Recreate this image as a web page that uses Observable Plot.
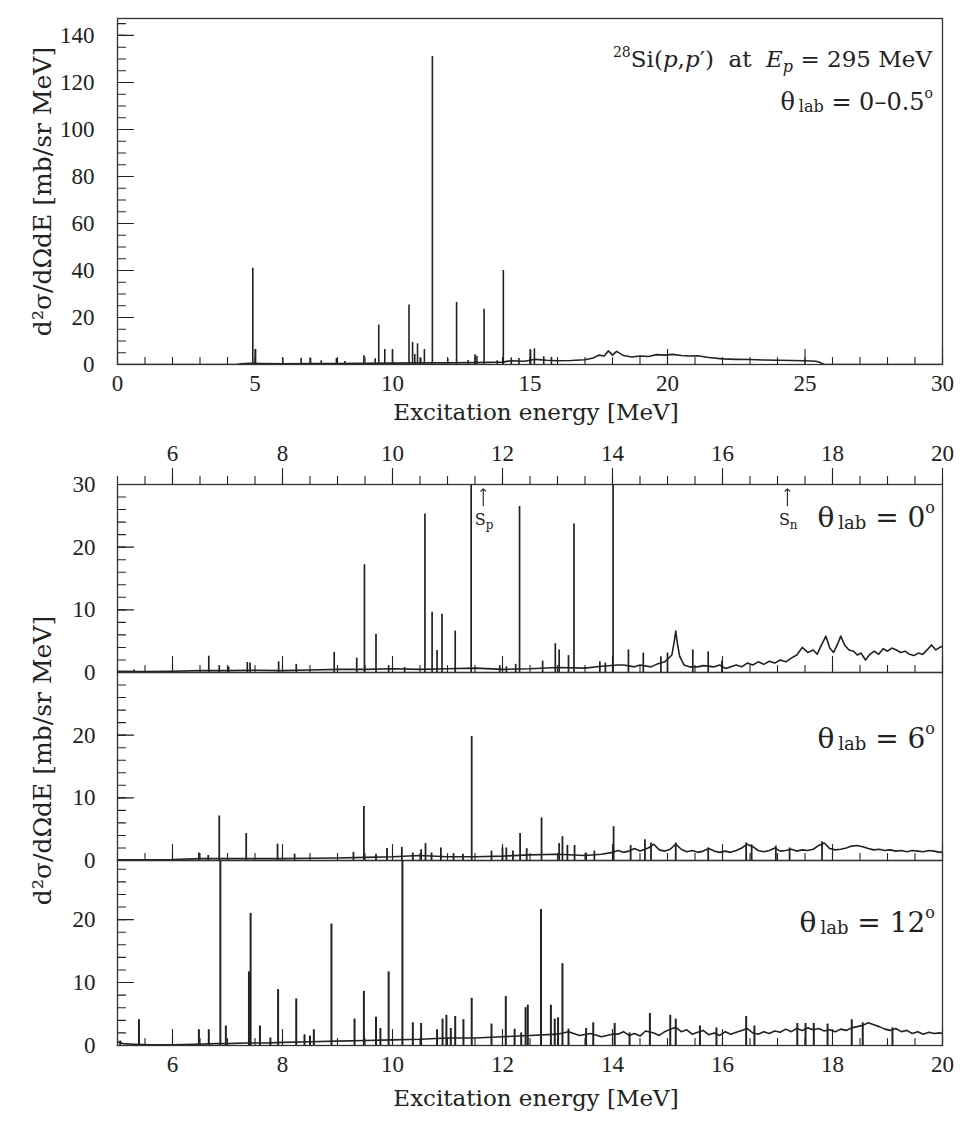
<!DOCTYPE html>
<html>
<head>
<meta charset="utf-8">
<script src="https://cdn.jsdelivr.net/npm/d3@7"></script>
<script src="https://cdn.jsdelivr.net/npm/@observablehq/plot@0.6"></script>
<style>
  body { margin: 0; background: #fff; }
  #fig { position: relative; width: 978px; height: 1134px; }
  #fig > svg { position: absolute; left: 0; overflow: visible; }
</style>
</head>
<body>
<div id="fig"></div>
<script>
// ---------------------------------------------------------------
// 28Si(p,p') spectra at Ep = 295 MeV
// Narrow states are listed as (energy, peak height); the continuum
// underneath is listed as (energy, value) samples.
// Units: excitation energy in MeV, cross section in mb/(sr MeV).
// ---------------------------------------------------------------

// θlab = 0–0.5°, full range 0–30 MeV
const overviewPeakE = [4.92, 5.02, 6.01, 6.68, 7.02, 7.41, 7.96, 8.27, 8.96, 9.37, 9.50, 9.72, 10.00, 10.60, 10.73, 10.81, 10.91, 11.03, 11.16, 11.45, 12.01, 12.33, 12.75, 13.00, 13.07, 13.33, 13.81, 14.03, 14.32, 14.60, 15.02, 15.16, 15.50, 15.78];
const overviewPeakH = [41.0, 6.4, 2.7, 2.7, 2.5, 1.6, 2.5, 1.3, 3.7, 2.4, 16.8, 6.4, 6.2, 25.3, 9.4, 4.3, 8.8, 2.7, 6.4, 131.0, 2.5, 26.4, 1.7, 4.1, 3.5, 23.5, 1.6, 40.0, 2.8, 2.6, 6.2, 6.6, 3.3, 3.0];
const overviewBgE = [0, 4.3, 4.5, 4.8, 5.2, 6, 7, 8, 9, 10, 11, 12, 13, 14, 14.3, 14.8, 15.2, 15.6, 16, 16.5, 17, 17.3, 17.5, 17.7, 17.85, 18.0, 18.15, 18.4, 18.7, 19.0, 19.3, 19.6, 19.9, 20.2, 20.5, 20.8, 21.1, 21.5, 22, 22.5, 23, 23.5, 24, 24.5, 25, 25.4, 25.6, 25.7, 30];
const overviewBgV = [0, 0, 0.3, 0.5, 0.4, 0.3, 0.4, 0.4, 0.5, 0.6, 0.7, 0.7, 0.8, 1.0, 1.6, 1.4, 2.2, 1.8, 1.6, 1.7, 2.0, 2.8, 4.0, 3.6, 5.8, 4.0, 5.6, 3.8, 3.2, 3.6, 3.4, 4.2, 4.0, 4.3, 3.8, 3.6, 3.7, 3.0, 2.4, 2.2, 2.1, 1.9, 1.8, 1.7, 1.6, 1.4, 0.6, 0, 0];

// θlab = 0°, 5–20 MeV
const deg0PeakE = [5.30, 6.66, 6.85, 7.02, 7.36, 7.41, 7.93, 8.25, 8.94, 9.35, 9.49, 9.70, 9.93, 10.22, 10.59, 10.72, 10.81, 10.90, 11.14, 11.43, 11.95, 12.07, 12.24, 12.31, 12.73, 12.96, 13.03, 13.20, 13.30, 13.77, 13.87, 14.01, 14.29, 14.56, 14.88, 15.00, 15.46, 15.74, 15.99];
const deg0PeakH = [0.4, 2.6, 1.1, 0.9, 1.6, 1.5, 1.7, 1.3, 3.2, 2.3, 17.2, 6.1, 1.1, 0.8, 25.3, 9.6, 3.5, 9.3, 6.6, 130.0, 1.1, 0.9, 1.3, 26.5, 1.8, 4.6, 3.6, 2.7, 23.7, 1.7, 1.5, 40.0, 3.6, 3.1, 2.5, 3.1, 3.6, 3.3, 1.8];
const deg0BgE = [5.0, 5.5, 6.0, 6.5, 7.0, 7.5, 8.0, 8.5, 9.0, 9.5, 10.0, 10.5, 11.0, 11.5, 12.0, 12.5, 13.0, 13.5, 13.8, 14.1, 14.2, 14.4, 14.5, 14.7, 14.8, 14.95, 15.08, 15.12, 15.15, 15.18, 15.22, 15.3, 15.4, 15.55, 15.65, 15.85, 15.95, 16.05, 16.15, 16.25, 16.35, 16.45, 16.55, 16.65, 16.75, 16.85, 16.95, 17.05, 17.15, 17.25, 17.35, 17.45, 17.55, 17.65, 17.72, 17.8, 17.88, 17.95, 18.02, 18.1, 18.15, 18.22, 18.3, 18.38, 18.45, 18.52, 18.6, 18.68, 18.76, 18.84, 18.92, 19.0, 19.08, 19.16, 19.24, 19.32, 19.4, 19.48, 19.56, 19.64, 19.72, 19.8, 19.88, 19.95, 20.0];
const deg0BgV = [0.2, 0.15, 0.2, 0.3, 0.3, 0.35, 0.3, 0.4, 0.5, 0.5, 0.6, 0.5, 0.6, 0.7, 0.5, 0.6, 0.8, 0.7, 1.0, 1.2, 1.2, 0.9, 1.2, 0.9, 1.3, 1.7, 2.8, 4.8, 6.6, 4.6, 2.6, 1.2, 0.9, 0.9, 1.1, 0.9, 1.2, 0.65, 0.9, 1.2, 0.9, 1.5, 1.2, 1.7, 1.3, 1.8, 1.5, 2.0, 1.7, 2.3, 2.8, 4.0, 3.2, 3.6, 2.9, 4.4, 5.8, 3.9, 3.2, 4.7, 5.8, 4.4, 3.6, 3.4, 2.8, 3.1, 2.0, 2.9, 3.4, 2.9, 3.8, 3.4, 3.9, 3.6, 3.2, 3.4, 2.9, 2.7, 3.1, 2.9, 3.6, 4.4, 3.6, 4.0, 4.2];

// θlab = 6°, 5–20 MeV
const deg6PeakE = [6.48, 6.65, 6.85, 7.34, 7.91, 8.22, 9.29, 9.48, 9.70, 9.90, 10.17, 10.37, 10.52, 10.60, 10.71, 10.88, 11.11, 11.28, 11.44, 11.80, 12.00, 12.07, 12.19, 12.32, 12.44, 12.71, 13.03, 13.09, 13.18, 13.31, 13.52, 13.67, 14.02, 14.33, 14.59, 14.70, 15.15, 15.74, 16.43, 16.53, 16.97, 17.22, 17.81];
const deg6PeakH = [1.2, 0.8, 7.1, 4.3, 2.6, 1.0, 1.3, 8.6, 1.0, 1.9, 2.1, 1.2, 1.7, 2.7, 1.2, 2.0, 1.1, 1.0, 19.8, 1.5, 2.0, 2.0, 1.5, 4.3, 1.9, 6.8, 2.7, 3.8, 2.4, 2.4, 1.2, 1.5, 5.4, 2.4, 3.3, 2.8, 2.8, 2.0, 2.8, 2.5, 2.3, 2.0, 3.0];
const deg6BgE = [5.0, 6.0, 6.5, 7.0, 7.5, 8.0, 8.5, 9.0, 9.5, 10.0, 10.5, 11.0, 11.5, 12.0, 12.5, 13.0, 13.5, 13.8, 14.0, 14.1, 14.2, 14.3, 14.4, 14.5, 14.65, 14.75, 14.85, 14.95, 15.05, 15.15, 15.25, 15.35, 15.45, 15.55, 15.65, 15.75, 15.85, 15.95, 16.05, 16.15, 16.25, 16.35, 16.45, 16.55, 16.65, 16.75, 16.85, 16.95, 17.05, 17.15, 17.25, 17.35, 17.45, 17.55, 17.65, 17.75, 17.85, 17.95, 18.05, 18.15, 18.25, 18.35, 18.45, 18.55, 18.65, 18.75, 18.85, 18.95, 19.05, 19.15, 19.25, 19.35, 19.45, 19.55, 19.65, 19.75, 19.85, 19.95, 20.0];
const deg6BgV = [0.1, 0.15, 0.3, 0.3, 0.3, 0.3, 0.35, 0.4, 0.5, 0.6, 0.8, 0.6, 0.6, 0.7, 0.9, 1.0, 0.8, 1.0, 1.3, 1.6, 1.3, 1.5, 1.9, 1.5, 2.0, 2.6, 1.7, 1.5, 1.8, 2.6, 1.8, 1.4, 1.6, 1.3, 1.5, 1.9, 1.5, 1.3, 1.5, 1.3, 1.6, 2.0, 2.6, 2.2, 1.6, 1.4, 1.6, 2.0, 1.5, 1.6, 1.8, 1.5, 1.7, 1.6, 1.8, 2.4, 2.8, 1.9, 1.7, 1.8, 2.0, 2.3, 2.4, 2.2, 1.9, 1.7, 1.8, 1.6, 1.7, 1.5, 1.6, 1.4, 1.6, 1.5, 1.4, 1.6, 1.5, 1.3, 1.4];

// θlab = 12°, 5–20 MeV
const deg12PeakE = [5.05, 5.39, 6.48, 6.66, 6.87, 6.97, 7.39, 7.42, 7.59, 7.78, 7.92, 8.25, 8.40, 8.50, 8.57, 8.89, 9.31, 9.48, 9.70, 9.78, 9.93, 10.18, 10.37, 10.52, 10.81, 10.91, 10.98, 11.06, 11.14, 11.29, 11.44, 11.80, 12.06, 12.22, 12.34, 12.42, 12.46, 12.70, 12.88, 12.95, 13.01, 13.09, 13.20, 13.52, 13.65, 14.04, 14.31, 14.68, 15.05, 15.15, 15.59, 15.89, 16.43, 16.58, 17.36, 17.51, 17.66, 17.91, 18.35, 18.55, 19.09];
const deg12PeakH = [0.7, 4.1, 2.5, 2.5, 40.0, 3.1, 11.7, 21.0, 3.1, 1.2, 8.9, 7.4, 1.7, 1.5, 2.5, 19.3, 4.2, 8.6, 4.5, 2.7, 11.7, 40.0, 3.6, 3.5, 2.5, 4.2, 4.8, 2.7, 4.6, 4.1, 7.5, 3.4, 7.8, 2.6, 2.0, 6.0, 6.4, 21.6, 6.4, 4.2, 4.4, 13.0, 2.6, 2.7, 3.6, 3.5, 2.0, 5.1, 4.8, 4.2, 3.1, 2.8, 4.6, 3.1, 3.5, 3.5, 3.5, 3.4, 4.1, 3.6, 2.8];
const deg12BgE = [5.0, 5.1, 5.3, 5.6, 6.0, 6.4, 6.8, 7.0, 7.3, 7.7, 8.0, 8.5, 9.0, 9.5, 10.0, 10.5, 11.0, 11.5, 12.0, 12.5, 13.0, 13.2, 13.4, 13.6, 13.8, 14.0, 14.1, 14.2, 14.3, 14.4, 14.5, 14.6, 14.75, 14.85, 14.95, 15.05, 15.15, 15.25, 15.35, 15.45, 15.55, 15.65, 15.75, 15.85, 15.95, 16.05, 16.15, 16.25, 16.35, 16.45, 16.55, 16.65, 16.75, 16.85, 16.95, 17.05, 17.15, 17.25, 17.35, 17.45, 17.55, 17.65, 17.75, 17.85, 17.95, 18.05, 18.15, 18.25, 18.35, 18.45, 18.55, 18.65, 18.75, 18.85, 18.95, 19.05, 19.15, 19.25, 19.35, 19.45, 19.55, 19.65, 19.75, 19.85, 19.95, 20.0];
const deg12BgV = [0.6, 0.3, 0.2, 0.1, 0.1, 0.2, 0.3, 0.3, 0.4, 0.4, 0.5, 0.6, 0.7, 0.8, 0.9, 1.0, 1.2, 1.2, 1.4, 1.6, 1.8, 2.2, 1.6, 1.9, 1.4, 1.8, 1.8, 2.2, 1.6, 1.9, 1.5, 2.3, 2.0, 1.6, 2.2, 2.6, 2.9, 2.2, 2.5, 1.8, 2.1, 2.4, 1.7, 2.0, 1.6, 2.2, 1.8, 2.1, 2.4, 2.7, 2.0, 1.8, 2.2, 1.9, 2.3, 2.1, 2.6, 2.2, 2.7, 2.4, 2.8, 2.5, 2.7, 2.3, 2.5, 2.2, 2.6, 2.4, 2.8, 3.0, 3.2, 3.6, 3.3, 3.0, 2.6, 2.4, 2.7, 2.2, 2.4, 1.9, 2.2, 1.8, 2.1, 1.9, 2.0, 1.9];

// Particle separation energies (MeV)
const thresholdName = ["p", "n"];
const thresholdE = [11.65, 17.18];

// Axis tick labels
const overviewXLabels = [0, 5, 10, 15, 20, 25, 30];
const overviewYLabels = [0, 20, 40, 60, 80, 100, 120, 140];
const zoomXLabels = [6, 8, 10, 12, 14, 16, 18, 20];
const zoomYLabelsTop = [0, 10, 20, 30];
const zoomYLabels = [0, 10, 20];

const yTitle = "d²σ/dΩdE [mb/sr MeV]";
const xTitle = "Excitation energy [MeV]";

// ---------------------------------------------------------------
const ink = "#222";
const FONT = "'Liberation Serif', 'DejaVu Serif', serif";     // tick numbers
const TFONT = "'DejaVu Serif', 'Liberation Serif', serif";    // titles and annotations
const fig = document.getElementById("fig");

// straight tick stroke for the vector mark
const tickShape = {draw(ctx, l) { ctx.moveTo(0, 0); ctx.lineTo(0, -l); }};
const xTicks = (values, length, frameAnchor = "bottom") =>
  Plot.vector(values, {x: (d) => d, frameAnchor, length, rotate: 0, anchor: "start",
    shape: tickShape, stroke: ink, strokeWidth: 1.1});
const yTicks = (values, length) =>
  Plot.vector(values, {y: (d) => d, frameAnchor: "left", length, rotate: 90, anchor: "start",
    shape: tickShape, stroke: ink, strokeWidth: 1.1});

function spectrumMarks(bgE, bgV, pkE, pkH, peakWidth) {
  const bg = bgE.map((E, i) => ({E, v: bgV[i]}));
  const pk = pkE.map((E, i) => ({E, h: pkH[i]}));
  return [
    Plot.line(bg, {x: "E", y: "v", stroke: ink, strokeWidth: 1.6, clip: true}),
    Plot.ruleX(pk, {x: "E", y1: 0, y2: "h", stroke: ink, strokeWidth: peakWidth, clip: true})
  ];
}

const yTitleMark = (dy = 0) => Plot.text([yTitle], {
  frameAnchor: "left", dx: -75, dy, rotate: -90, textAnchor: "middle", lineAnchor: "middle",
  text: (d) => d, fontSize: 25, fontFamily: TFONT, fill: ink
});
const xTitleMark = (dy) => Plot.text([xTitle], {
  frameAnchor: "bottom", dy, dx: 6, textAnchor: "middle", lineAnchor: "middle",
  text: (d) => d, fontSize: 23, fontFamily: TFONT, fill: ink
});

function place(svg, top) {
  svg.style.top = top + "px";
  fig.appendChild(svg);
  return svg;
}

function richText(svg, x, y, parts, anchor = "end", size = 26) {
  const t = d3.select(svg).append("text")
    .attr("x", x).attr("y", y).attr("text-anchor", anchor)
    .attr("font-family", TFONT).attr("font-size", size).attr("fill", ink);
  for (const p of parts) {
    const s = t.append("tspan").text(p.t);
    if (p.size) s.attr("font-size", p.size);
    if (p.dy) s.attr("dy", p.dy);
    if (p.dx) s.attr("dx", p.dx);
    if (p.it) s.attr("font-style", "italic");
  }
  return t;
}

const angleLabel = (value, small) => [
  {t: "θ"}, {t: "lab", size: small, dy: 2, dx: 4}, {t: "\u00a0= " + value, dy: -2},
  {t: "o", size: small - 2, dy: -Math.round(small * 0.75)}
];

const baseStyle = {fontFamily: FONT, fontSize: "23px", color: ink, background: "transparent", overflow: "visible"};

// ---------------- overview panel ----------------
const overview = Plot.plot({
  width: 978, height: 430,
  marginLeft: 117, marginRight: 36, marginTop: 18, marginBottom: 66,
  style: baseStyle,
  x: {domain: [0, 30], axis: null},
  y: {domain: [0, 147.2], axis: null},
  marks: [
    ...spectrumMarks(overviewBgE, overviewBgV, overviewPeakE, overviewPeakH, 1.6),
    xTicks(d3.range(0, 31, 1), 7), xTicks(overviewXLabels, 15),
    yTicks(d3.range(0, 146, 5), 8), yTicks(overviewYLabels, 16),
    Plot.axisX(overviewXLabels, {anchor: "bottom", tickSize: 0, tickPadding: 10, label: null}),
    Plot.axisY(overviewYLabels, {anchor: "left", tickSize: 0, tickPadding: 23, label: null}),
    xTitleMark(48),
    yTitleMark(0),
    Plot.frame({stroke: "#333", strokeWidth: 1.3})
  ]
});
place(overview, 0);
richText(overview, 932, 67, [
  {t: "28", size: 14, dy: -10}, {t: "Si(", dy: 10}, {t: "p", it: true}, {t: ","},
  {t: "p", it: true}, {t: "′)\u00a0 at\u00a0 "}, {t: "E", it: true},
  {t: "p", it: true, size: 16, dy: 5}, {t: "\u00a0= 295 MeV", dy: -5}
], "end", 23);
richText(overview, 933, 110, angleLabel("0–0.5", 16), "end", 24);

// ---------------- θ = 0° panel ----------------
const zoomX = {domain: [5, 20], axis: null};
const p0 = Plot.plot({
  width: 978, height: 250,
  marginLeft: 117, marginRight: 36, marginTop: 54, marginBottom: 8,
  style: baseStyle,
  x: zoomX,
  y: {domain: [0, 30], axis: null},
  marks: [
    ...spectrumMarks(deg0BgE, deg0BgV, deg0PeakE, deg0PeakH, 1.7),
    xTicks(d3.range(5, 20.01, 0.5), 7), xTicks(zoomXLabels, 16),
    xTicks(d3.range(5, 20.01, 0.5), 8, "top"), xTicks(zoomXLabels, 16, "top"),
    yTicks(d3.range(0, 30.1, 2), 8), yTicks(zoomYLabelsTop, 16),
    Plot.vector(thresholdE, {x: (d) => d, y: 26.6, length: 17, rotate: 0, anchor: "start", stroke: ink, strokeWidth: 1.1, r: 2.5}),
    Plot.axisX(zoomXLabels, {anchor: "top", tickSize: 0, tickPadding: 24, label: null}),
    Plot.axisY(zoomYLabelsTop, {anchor: "left", tickSize: 0, tickPadding: 22, label: null}),
    Plot.frame({stroke: "#333", strokeWidth: 1.3})
  ]
});
place(p0, 430);
{
  const xs = p0.scale("x"), ys = p0.scale("y");
  thresholdE.forEach((E, i) => {
    richText(p0, xs.apply(E) - 8, ys.apply(23.4), [
      {t: "S"}, {t: thresholdName[i], size: 12, dy: 4}
    ], "start", 16);
  });
}
richText(p0, 935, 97, angleLabel("0", 18), "end", 28);

// ---------------- θ = 6° panel ----------------
const p6 = Plot.plot({
  width: 978, height: 204,
  marginLeft: 117, marginRight: 36, marginTop: 8, marginBottom: 8,
  style: baseStyle,
  x: zoomX,
  y: {domain: [0, 30], axis: null},
  marks: [
    ...spectrumMarks(deg6BgE, deg6BgV, deg6PeakE, deg6PeakH, 1.8),
    xTicks(d3.range(5, 20.01, 0.5), 7), xTicks(zoomXLabels, 16),
    yTicks(d3.range(0, 29.1, 2), 8), yTicks(zoomYLabels, 16),
    Plot.axisY(zoomYLabels, {anchor: "left", tickSize: 0, tickPadding: 22, label: null}),
    yTitleMark(-6),
    Plot.frame({stroke: "#333", strokeWidth: 1.3})
  ]
});
place(p6, 664);
richText(p6, 935, 84, angleLabel("6", 18), "end", 28);

// ---------------- θ = 12° panel ----------------
const p12 = Plot.plot({
  width: 978, height: 282,
  marginLeft: 117, marginRight: 36, marginTop: 8, marginBottom: 89,
  style: baseStyle,
  x: zoomX,
  y: {domain: [0, 29.4], axis: null},
  marks: [
    ...spectrumMarks(deg12BgE, deg12BgV, deg12PeakE, deg12PeakH, 2.0),
    xTicks(d3.range(5, 20.01, 0.5), 7), xTicks(zoomXLabels, 16),
    yTicks(d3.range(0, 29.1, 2), 8), yTicks(zoomYLabels, 16),
    Plot.axisX(zoomXLabels, {anchor: "bottom", tickSize: 0, tickPadding: 10, label: null}),
    Plot.axisY(zoomYLabels, {anchor: "left", tickSize: 0, tickPadding: 22, label: null}),
    xTitleMark(53),
    Plot.frame({stroke: "#333", strokeWidth: 1.3})
  ]
});
place(p12, 852);
richText(p12, 935, 80, angleLabel("12", 18), "end", 28);
</script>
</body>
</html>
